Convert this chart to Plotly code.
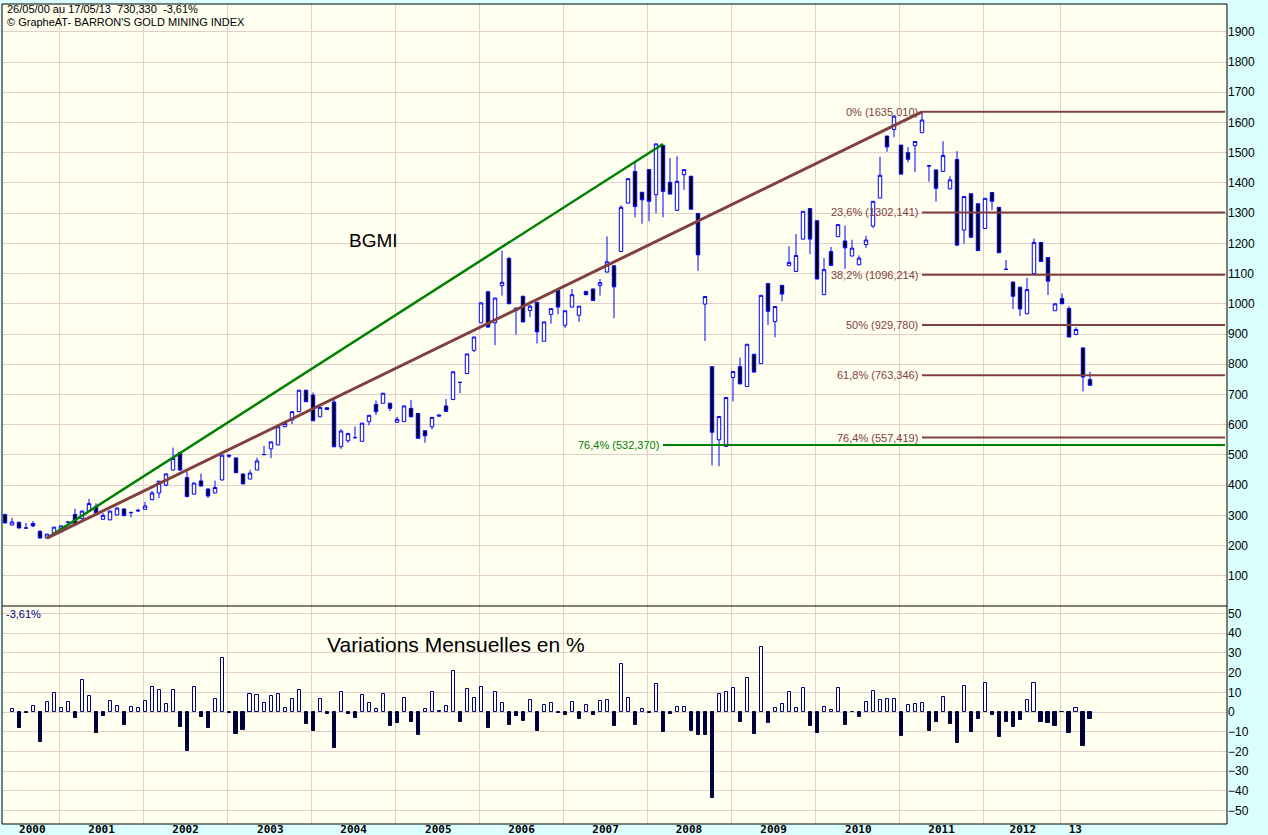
import plotly.graph_objects as go

# ---------------- data (monthly candles, May 2000 -> May 2013) ----------------
open_ = [303, 268, 277, 258, 273, 247, 225, 241, 245, 278, 303, 289, 314, 329, 287, 285, 301, 321, 310, 317,
         320, 352, 374, 400, 450, 508, 425, 370, 414, 387, 374, 417, 499, 490, 437, 420, 450, 501, 520, 533,
         593, 615, 643, 714, 698, 626, 656, 675, 527, 547, 557, 545, 610, 667, 671, 671, 608, 610, 654, 637,
         580, 593, 628, 662, 683, 740, 769, 846, 937, 1040, 937, 1060, 1150, 985, 1025, 978, 1005, 876, 965, 1044,
         929, 989, 962, 1041, 1049, 1060, 1105, 1126, 1173, 1333, 1438, 1369, 1444, 1361, 1524, 1402, 1309, 1427, 1422, 1299,
         999, 792, 550, 528, 756, 792, 726, 833, 802, 1067, 941, 1061, 1126, 1107, 1214, 1315, 1275, 1030, 1173, 1222,
         1208, 1158, 1129, 1196, 1257, 1350, 1555, 1577, 1525, 1500, 1523, 1566, 1457, 1443, 1438, 1380, 1477, 1244, 1364, 1331,
         1249, 1368, 1319, 1114, 1072, 1055, 967, 1100, 1203, 1153, 977, 1017, 984, 898, 854, 749]
high = [305, 292, 279, 275, 281, 251, 238, 261, 266, 280, 322, 316, 355, 340, 307, 316, 327, 323, 311, 322,
        345, 381, 414, 440, 524, 510, 445, 408, 438, 390, 415, 500, 500, 491, 437, 451, 491, 530, 544, 594,
        605, 645, 715, 715, 706, 660, 657, 686, 585, 572, 594, 606, 632, 680, 705, 672, 626, 663, 682, 638,
        581, 625, 633, 685, 776, 741, 835, 891, 1004, 1041, 1020, 1176, 1155, 989, 1026, 996, 1006, 941, 985, 1052,
        978, 1049, 993, 1042, 1050, 1082, 1223, 1128, 1326, 1415, 1468, 1370, 1445, 1530, 1526, 1482, 1488, 1445, 1423, 1300,
        1025, 793, 628, 691, 777, 822, 867, 834, 1029, 1068, 992, 1062, 1190, 1231, 1307, 1316, 1276, 1151, 1188, 1263,
        1259, 1212, 1160, 1225, 1340, 1486, 1556, 1622, 1526, 1518, 1538, 1637, 1458, 1444, 1538, 1422, 1505, 1356, 1365, 1332,
        1350, 1369, 1320, 1145, 1073, 1056, 1086, 1216, 1204, 1154, 1001, 1034, 992, 922, 855, 775]
low = [273, 267, 257, 257, 261, 223, 224.5, 240, 244, 276, 266, 287, 312, 305, 286, 284, 300, 297, 293, 311,
       319, 350, 357, 396, 449, 448, 360, 369, 395, 358, 373, 416, 490, 440, 403, 420, 450, 500, 489, 532,
       592, 602, 641, 675, 612, 625, 649, 525, 520, 540, 556, 544, 598, 632, 670, 645, 607, 609, 625, 554,
       540, 584, 627, 643, 682, 704, 768, 840, 936, 920, 863, 1027, 999, 898, 939, 956, 868, 875, 934, 965,
       920, 988, 940, 1029, 1010, 1027, 1104, 952, 1172, 1332, 1286, 1265, 1273, 1300, 1286, 1362, 1308, 1377, 1312, 1109,
       877, 465, 462, 527, 677, 734, 725, 773, 801, 930, 889, 1008, 1125, 1106, 1213, 1164, 1081, 1029, 1126, 1221,
       1116, 1157, 1128, 1184, 1251, 1349, 1503, 1551, 1428, 1468, 1436, 1565, 1404, 1338, 1437, 1379, 1193, 1199, 1219, 1175,
       1248, 1310, 1168, 1113, 983, 959, 966, 1099, 1139, 1029, 976, 999, 889, 897, 710, 728]
close = [275, 278, 258, 258, 265, 225, 238, 261, 265, 277, 269, 314, 339, 308, 300, 314, 324, 299, 309, 315,
         331, 374, 413, 437, 488, 450, 362, 407, 397, 364, 392, 499, 496, 441, 404, 440, 480, 501, 543, 593,
         604, 643, 714, 676, 613, 657, 650, 527, 579, 571, 557, 605, 631, 643, 704, 654, 618, 662, 626, 555,
         563, 624, 632, 644, 775, 740, 834, 890, 1003, 923, 1019, 1071, 1000, 978, 940, 992, 907, 940, 984, 989,
         977, 1030, 992, 1030, 1011, 1070, 1139, 1056, 1319, 1414, 1322, 1344, 1339, 1529, 1372, 1363, 1405, 1444, 1313, 1162,
         1024, 575, 627, 690, 776, 735, 866, 774, 1028, 975, 991, 1032, 1137, 1160, 1306, 1214, 1082, 1113, 1127, 1262,
         1185, 1184, 1151, 1211, 1339, 1425, 1519, 1621, 1429, 1478, 1537, 1608, 1456, 1382, 1491, 1410, 1194, 1355, 1220, 1176,
         1349, 1339, 1169, 1114, 1025, 983, 1047, 1203, 1140, 1075, 1000, 1000, 890, 915, 757.6, 730.33]

# monthly variation in % (lower panel)
pct_change = [None, 1.5, -8.3, -0.3, 3.2, -15.0, 5.3, 9.7, 2.2, 5.3, -3.2, 16.0, 8.2, -10.7, -2.2, 5.8, 3.2, -6.8, 2.6, 2.2,
              5.8, 12.8, 11.4, 4.3, 11.4, -7.8, -20.0, 12.8, -2.7, -8.3, 6.6, 27.5, -0.5, -11.4, -9.0, 9.2, 8.7, 4.6, 8.2, 9.2,
              2.2, 6.6, 11.4, -6.0, -9.4, 6.6, -0.8, -18.5, 10.4, -0.9, -3.1, 8.7, 4.4, 1.5, 9.2, -7.3, -5.6, 7.1, -5.1, -11.9,
              1.5, 10.2, 0.6, 3.2, 20.6, -5.1, 11.7, 7.1, 12.8, -8.2, 10.2, 4.6, -6.8, -2.2, -4.8, 6.3, -9.4, 3.7, 4.6, -0.3,
              -1.7, 5.1, -3.6, 3.6, -1.7, 5.8, 6.3, -7.3, 24.5, 7.1, -6.8, 1.5, -0.3, 14.3, -10.4, -1.0, 2.6, 2.6, -9.4, -11.9,
              -11.9, -43.9, 9.2, 10.2, 12.2, -5.1, 17.3, -11.2, 33.2, -5.6, 2.0, 4.1, 10.2, 2.0, 12.2, -7.3, -10.7, 2.6, 1.2, 12.2,
              -6.5, -0.2, -2.7, 5.1, 10.9, 6.3, 6.8, 6.8, -12.1, 3.7, 4.3, 4.6, -9.5, -5.3, 7.7, -6.0, -15.5, 13.4, -10.4, -3.6,
              14.8, -1.4, -12.8, -5.3, -7.8, -4.3, 6.3, 14.8, -5.3, -5.6, -7.3, -0.1, -10.7, 2.0, -17.5, -3.61]

year_labels = ['2000', '2001', '2002', '2003', '2004', '2005', '2006', '2007', '2008', '2009', '2010', '2011', '2012', '13']
year_label_pos = [3.9, 13.8, 25.8, 37.9, 49.8, 61.9, 73.8, 85.8, 97.7, 109.8, 121.9, 133.8, 145.4, 152.9]
year_start_idx = [8, 20, 32, 44, 56, 68, 80, 92, 104, 116, 128, 140, 151]
price_ticks = [100, 200, 300, 400, 500, 600, 700, 800, 900, 1000, 1100, 1200, 1300, 1400, 1500, 1600, 1700, 1800, 1900]
pct_ticks = [-50, -40, -30, -20, -10, 0, 10, 20, 30, 40, 50]

fib_levels = [1635.010, 1302.141, 1096.214, 929.780, 763.346, 557.419]
fib_labels = ['0% (1635,010)', '23,6% (1302,141)', '38,2% (1096,214)', '50% (929,780)', '61,8% (763,346)', '76,4% (557,419)']
green_level = 532.370
green_label = '76,4% (532,370)'
trend_start = (6, 224.55)
green_end = (94, 1528.9)
brown_end = (131, 1635.01)

# ---------------- styling ----------------
CREAM = '#FFFFF0'
CYAN = '#DBFFFF'
GRID = '#E2CFCB'
BLUE = '#0000FF'
NAVY = '#000080'
DARKNAVY = '#00003A'
BROWN = '#804040'
GREEN = '#008000'

x = list(range(len(close)))
x_right = 174.3
split = (824 - 606) / 820.0

fig = go.Figure()

fig.add_trace(go.Candlestick(
    x=x, open=open_, high=high, low=low, close=close,
    increasing=dict(line=dict(color=BLUE, width=1), fillcolor=CREAM),
    decreasing=dict(line=dict(color=BLUE, width=1), fillcolor='#000000'),
    whiskerwidth=0, xaxis='x', yaxis='y', showlegend=False, hoverinfo='skip'))

# trend lines
fig.add_trace(go.Scatter(x=[trend_start[0], green_end[0]], y=[trend_start[1], green_end[1]],
                         mode='lines', line=dict(color=GREEN, width=2.5), xaxis='x', yaxis='y',
                         showlegend=False, hoverinfo='skip'))
fig.add_trace(go.Scatter(x=[trend_start[0], brown_end[0]], y=[trend_start[1], brown_end[1]],
                         mode='lines', line=dict(color=BROWN, width=3), xaxis='x', yaxis='y',
                         showlegend=False, hoverinfo='skip'))
# fibonacci levels
for lvl in fib_levels:
    fig.add_trace(go.Scatter(x=[brown_end[0], x_right], y=[lvl, lvl], mode='lines',
                             line=dict(color=BROWN, width=2), xaxis='x', yaxis='y',
                             showlegend=False, hoverinfo='skip'))
fig.add_trace(go.Scatter(x=[green_end[0], x_right], y=[green_level, green_level], mode='lines',
                         line=dict(color=GREEN, width=2), xaxis='x', yaxis='y',
                         showlegend=False, hoverinfo='skip'))

# monthly variation bars
bar_fill = [CREAM if (v is not None and v >= 0) else DARKNAVY for v in pct_change]
bar_line = [NAVY if (v is not None and v >= 0) else DARKNAVY for v in pct_change]
fig.add_trace(go.Bar(x=x, y=pct_change, width=0.43,
                     marker=dict(color=bar_fill, line=dict(color=bar_line, width=1)),
                     xaxis='x', yaxis='y2', showlegend=False, hoverinfo='skip'))

annotations = []
for lvl, lab in zip(fib_levels, fib_labels):
    annotations.append(dict(x=130.7, y=lvl, xref='x', yref='y', text=lab, showarrow=False,
                            xanchor='right', yanchor='middle',
                            font=dict(family='Liberation Sans', size=11, color=BROWN)))
annotations.append(dict(x=93.7, y=green_level, xref='x', yref='y', text=green_label, showarrow=False,
                        xanchor='right', yanchor='middle',
                        font=dict(family='Liberation Sans', size=11, color=GREEN)))
annotations.append(dict(x=52.6, y=1208, xref='x', yref='y', text='BGMI', showarrow=False,
                        xanchor='center', yanchor='middle',
                        font=dict(family='Liberation Sans', size=19, color='#000000')))
annotations.append(dict(x=64.4, y=34.5, xref='x', yref='y2', text='Variations Mensuelles en %', showarrow=False,
                        xanchor='center', yanchor='middle',
                        font=dict(family='Liberation Sans', size=21, color='#000000')))
annotations.append(dict(x=-0.1, y=49.7, xref='x', yref='y2', text='-3,61%', showarrow=False,
                        xanchor='left', yanchor='middle',
                        font=dict(family='Liberation Sans', size=11, color=NAVY)))
annotations.append(dict(x=0.0024, y=(824 - 9) / 820.0, xref='paper', yref='paper',
                        text='26/05/00 au 17/05/13  730,330  -3,61%', showarrow=False,
                        xanchor='left', yanchor='middle',
                        font=dict(family='Liberation Sans', size=11, color='#000000')))
annotations.append(dict(x=0.0024, y=(824 - 22) / 820.0, xref='paper', yref='paper',
                        text="© GrapheAT- BARRON'S GOLD MINING INDEX", showarrow=False,
                        xanchor='left', yanchor='middle',
                        font=dict(family='Liberation Sans', size=11, color='#000000')))

shapes = [
    dict(type='rect', xref='paper', yref='paper', x0=0, x1=1, y0=0, y1=1,
         line=dict(color='#000000', width=1), layer='above'),
    dict(type='line', xref='paper', yref='paper', x0=0, x1=1, y0=split, y1=split,
         line=dict(color='#000000', width=1), layer='above'),
]

year_bounds = [i - 2.0 / 7.0 for i in year_start_idx]

fig.update_layout(
    width=1268, height=835,
    margin=dict(l=2, r=41, t=4, b=11, autoexpand=False),
    paper_bgcolor=CYAN, plot_bgcolor=CREAM,
    showlegend=False, bargap=0,
    xaxis=dict(domain=[0, 1], anchor='y2', range=[-3.0 / 7.0, 1222.0 / 7.0], automargin=False,
               rangeslider=dict(visible=False), showgrid=False, zeroline=False,
               tickmode='array', tickvals=year_label_pos, ticktext=year_labels, ticks='',
               ticklabelstandoff=-3,
               tickfont=dict(family='DejaVu Sans Mono', size=11, color='#000000', weight='bold'),
               minor=dict(tickmode='array', tickvals=year_bounds, showgrid=True,
                          gridcolor=GRID, gridwidth=1, ticks='')),
    yaxis=dict(domain=[split, 1], range=[0, (606 - 4) / 0.30222], side='right', automargin=False,
               tickmode='array', tickvals=price_ticks, ticks='', showgrid=True,
               gridcolor=GRID, gridwidth=1, zeroline=False, anchor='x',
               tickfont=dict(family='Liberation Sans', size=12, color='#000000')),
    yaxis2=dict(domain=[0, split], range=[-(824 - 712) / 1.97, (712 - 606) / 1.97], side='right',
                automargin=False,
                tickmode='array', tickvals=pct_ticks, ticks='', showgrid=True,
                gridcolor=GRID, gridwidth=1, zeroline=False, anchor='x',
                tickfont=dict(family='Liberation Sans', size=12, color='#000000')),
    annotations=annotations, shapes=shapes,
)

fig.write_html('out.html', config={'displayModeBar': False},
               post_script="document.body.style.margin='0';document.body.style.padding='0';document.body.style.overflow='hidden';")
